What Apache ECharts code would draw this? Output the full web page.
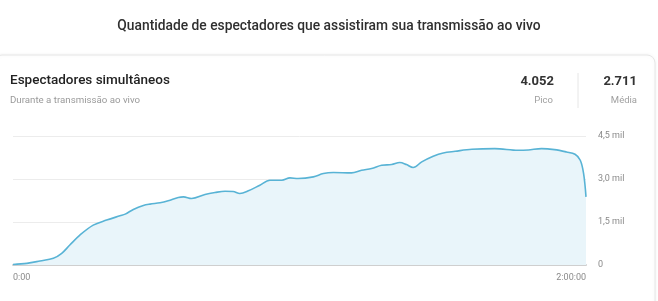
<!DOCTYPE html>
<html>
<head>
<meta charset="utf-8">
<script src="https://cdn.jsdelivr.net/npm/echarts@6/dist/echarts.min.js"></script>
<style>
html,body{margin:0;padding:0;background:#fff;}
#c{width:658px;height:301px;}
</style>
</head>
<body>
<div id="c"></div>
<script>
// minutes since start
const minutes = [0, 2.9, 5.65, 8.45, 10.2, 11.9, 14.0, 16.8, 19.6, 22.4, 23.5, 25.2, 27.3, 28.7, 30.8,
  32.5, 34.6, 35.7, 37.4, 40.2, 42.3, 44.4, 46.1, 47.5, 49.3, 51.7, 53.8, 56.3, 58.0, 59.7,
  62.9, 65.0, 67.1, 70.9, 73.0, 75.1, 77.2, 79.3, 81.0, 82.4, 83.8, 85.6, 88.0, 90.1,
  92.6, 96.1, 100.9, 105.8, 107.9, 110.7, 113.4, 115.9, 117.7, 118.8, 119.5, 120];
// concurrent viewers
const viewers = [20, 58, 139, 232, 406, 696, 1044, 1392, 1566, 1717, 1775, 1937, 2076, 2123, 2169,
  2239, 2355, 2378, 2320, 2459, 2529, 2575, 2564, 2494, 2587, 2784, 2958, 2958, 3039, 3016,
  3074, 3190, 3225, 3213, 3306, 3364, 3480, 3503, 3573, 3503, 3399, 3596, 3793, 3909,
  3967, 4037, 4060, 4002, 4014, 4060, 4025, 3944, 3863, 3654, 3190, 2378];
const yTicks = {0: '0', 1500: '1,5 mil', 3000: '3,0 mil', 4500: '4,5 mil'};
const xTicks = {0: '0:00', 120: '2:00:00'};
const chartTitle = 'Quantidade de espectadores que assistiram sua transmissão ao vivo';
const cardTitle = 'Espectadores simultâneos';
const cardSub = 'Durante a transmissão ao vivo';
const stats = [{value: '4.052', label: 'Pico'}, {value: '2.711', label: 'Média'}];

const FONT = 'Roboto, "Noto Sans", sans-serif';
const chart = echarts.init(document.getElementById('c'));
chart.setOption({
  animation: false,
  grid: {left: 13, right: 72, top: 136, bottom: 36},
  xAxis: {
    type: 'value', min: 0, max: 120, interval: 120,
    axisLine: {show: true, lineStyle: {color: '#cfcfcf', width: 2}},
    axisTick: {show: false},
    splitLine: {show: false},
    axisLabel: {
      color: '#8a8a8a', fontSize: 9, fontFamily: FONT, margin: 8,
      alignMinLabel: 'left', alignMaxLabel: 'right',
      formatter: v => xTicks[v] || ''
    }
  },
  yAxis: {
    type: 'value', position: 'right', min: 0, max: 4500, interval: 1500,
    axisLine: {show: false}, axisTick: {show: false},
    splitLine: {lineStyle: {color: '#ececec', width: 1}},
    axisLabel: {
      color: '#8a8a8a', fontSize: 9, fontFamily: FONT, margin: 12,
      formatter: v => yTicks[v] || ''
    }
  },
  series: [{
    type: 'line',
    data: minutes.map((m, i) => [m, viewers[i]]),
    smooth: 0.35,
    symbol: 'none',
    lineStyle: {color: '#58b3d5', width: 1.6},
    areaStyle: {color: '#e9f5fa', opacity: 1},
    z: 3
  }],
  graphic: [
    {type: 'rect', shape: {x: -6, y: 55, width: 661, height: 270, r: 8},
      style: {fill: '#fff', stroke: '#e6e6e6', lineWidth: 1, shadowBlur: 4, shadowColor: 'rgba(0,0,0,0.06)'}, z: -10},
    {type: 'text', left: 'center', top: 20,
      style: {text: chartTitle, fill: '#2f2f2f', fontSize: 13.8, fontWeight: 500, fontFamily: FONT}},
    {type: 'text', left: 10, top: 74,
      style: {text: cardTitle, fill: '#222', fontSize: 13.5, fontWeight: 500, fontFamily: FONT}},
    {type: 'text', left: 10, top: 96,
      style: {text: cardSub, fill: '#9a9a9a', fontSize: 9.7, fontFamily: FONT}},
    {type: 'text', right: 658 - 554, top: 75,
      style: {text: stats[0].value, fill: '#333', fontSize: 13, fontWeight: 'bold', fontFamily: FONT}},
    {type: 'text', right: 658 - 553, top: 96,
      style: {text: stats[0].label, fill: '#a0a0a0', fontSize: 9.5, fontFamily: FONT}},
    {type: 'line', shape: {x1: 578, y1: 73, x2: 578, y2: 108}, style: {stroke: '#e6e6e6', lineWidth: 1}},
    {type: 'text', right: 658 - 637, top: 75,
      style: {text: stats[1].value, fill: '#333', fontSize: 13, fontWeight: 'bold', fontFamily: FONT}},
    {type: 'text', right: 658 - 637, top: 96,
      style: {text: stats[1].label, fill: '#a0a0a0', fontSize: 9.5, fontFamily: FONT}}
  ]
});
</script>
</body>
</html>
